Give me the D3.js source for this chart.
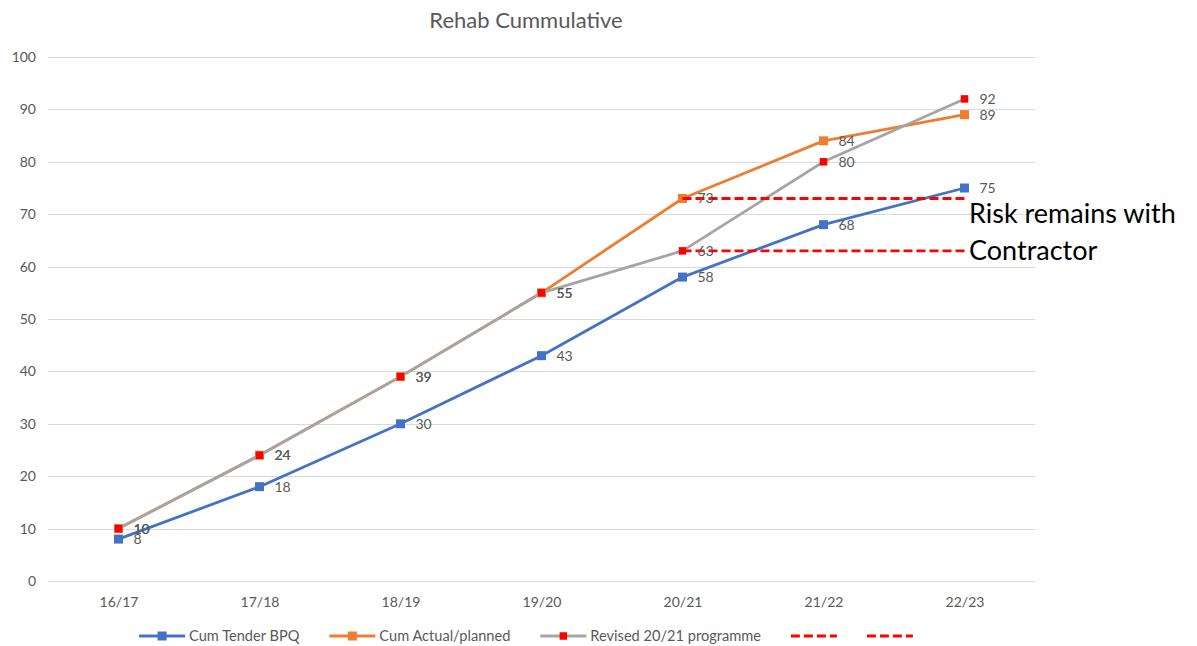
<!DOCTYPE html>
<html>
<head>
<meta charset="utf-8">
<script src="https://cdn.jsdelivr.net/npm/d3@7"></script>
<style>
  html, body { margin: 0; padding: 0; background: #fff; }
  svg { display: block; }
</style>
</head>
<body>
<svg id="chart" width="1197" height="646"></svg>
<script>
// ---- data ----
const categories = ["16/17", "17/18", "18/19", "19/20", "20/21", "21/22", "22/23"];
const cumTender = [8, 18, 30, 43, 58, 68, 75];
const cumActual = [10, 24, 39, 55, 73, 84, 89];
const revised2021 = [10, 24, 39, 55, 63, 80, 92];
const riskHigh = [null, null, null, null, 73, 73, 73];
const riskLow = [null, null, null, null, 63, 63, 63];
const yTicks = [0, 10, 20, 30, 40, 50, 60, 70, 80, 90, 100];
const titleText = "Rehab Cummulative";
const noteLines = ["Risk remains with", "Contractor"];
const legendNames = ["Cum Tender BPQ", "Cum Actual/planned", "Revised 20/21 programme", "", ""];

// ---- layout ----
const FONT = "Lato, 'Open Sans', sans-serif";
const plot = { left: 48, right: 1035, top: 57, bottom: 581 };
const svg = d3.select("#chart");

const x = d3.scalePoint().domain(categories).range([plot.left, plot.right]).padding(0.5);
const y = d3.scaleLinear().domain([0, 100]).range([plot.bottom, plot.top]);

const series = [
  { name: legendNames[0], values: cumTender, color: "#4472C4", marker: "#4472C4", msize: 9, width: 2.8, dash: null, labels: true },
  { name: legendNames[1], values: cumActual, color: "#ED7D31", marker: "#ED7D31", msize: 9, width: 2.8, dash: null, labels: true },
  { name: legendNames[2], values: revised2021, color: "#A5A5A5", marker: "#FF0000", msize: 7.5, width: 2.8, dash: null, labels: true },
  { name: legendNames[3], values: riskHigh, color: "#FF0000", marker: null, msize: 0, width: 2.8, dash: "9,4", labels: false },
  { name: legendNames[4], values: riskLow, color: "#FF0000", marker: null, msize: 0, width: 2.8, dash: "9,4", labels: false }
];

// gridlines
const yAxis = d3.axisLeft(y).tickValues(yTicks).tickSize(-(plot.right - plot.left)).tickPadding(12);
const gy = svg.append("g").attr("transform", `translate(${plot.left},0)`).call(yAxis);
gy.select(".domain").remove();
gy.selectAll(".tick line").attr("stroke", "#D9D9D9").attr("stroke-width", 1).attr("shape-rendering", "crispEdges");
gy.selectAll(".tick text").attr("fill", "#595959").style("font-family", FONT).style("font-size", "14px");

// x axis labels
const xAxis = d3.axisBottom(x).tickSize(0).tickPadding(16);
const gx = svg.append("g").attr("transform", `translate(0,${plot.bottom})`).call(xAxis);
gx.select(".domain").remove();
gx.selectAll(".tick text").attr("fill", "#595959").style("font-family", FONT).style("font-size", "14px");

// lines
const lineGen = d3.line()
  .defined(d => d.v !== null)
  .x(d => x(d.c))
  .y(d => y(d.v));

series.forEach(s => {
  const pts = categories.map((c, i) => ({ c, v: s.values[i] }));
  const g = svg.append("g");
  g.append("path")
    .datum(pts)
    .attr("d", lineGen)
    .attr("fill", "none")
    .attr("stroke", s.color)
    .attr("stroke-width", s.width)
    .attr("stroke-linejoin", "round")
    .attr("stroke-dasharray", s.dash);
  if (s.marker) {
    g.selectAll("rect")
      .data(pts.filter(d => d.v !== null))
      .enter().append("rect")
      .attr("x", d => x(d.c) - s.msize / 2)
      .attr("y", d => y(d.v) - s.msize / 2)
      .attr("width", s.msize)
      .attr("height", s.msize)
      .attr("fill", s.marker);
  }
  s.pts = pts;
});

// data labels
series.filter(s => s.labels).forEach(s => {
  svg.append("g").selectAll("text")
    .data(s.pts.filter(d => d.v !== null))
    .enter().append("text")
    .attr("x", d => x(d.c) + 15)
    .attr("y", d => y(d.v))
    .attr("dy", "0.35em")
    .attr("fill", "#595959")
    .style("font-family", FONT)
    .style("font-size", "14px")
    .text(d => d.v);
});

// title
svg.append("text")
  .attr("x", 526)
  .attr("y", 28)
  .attr("text-anchor", "middle")
  .attr("fill", "#595959")
  .style("font-family", FONT)
  .style("font-size", "22px")
  .text(titleText);

// note text
svg.append("g").selectAll("text")
  .data(noteLines)
  .enter().append("text")
  .attr("x", 969)
  .attr("y", (d, i) => 223 + i * 37)
  .attr("fill", "#000")
  .style("font-family", FONT)
  .style("font-size", "27px")
  .text(d => d);

// legend
const legend = svg.append("g");
const legendY = 636;
const lineLen = 46, textGap = 4, itemGap = 30;
const items = series.map(s => {
  const g = legend.append("g");
  g.append("line")
    .attr("x1", 0).attr("x2", lineLen)
    .attr("y1", 0).attr("y2", 0)
    .attr("stroke", s.color)
    .attr("stroke-width", s.width)
    .attr("stroke-dasharray", s.dash);
  if (s.marker) {
    g.append("rect")
      .attr("x", lineLen / 2 - s.msize / 2)
      .attr("y", -s.msize / 2)
      .attr("width", s.msize).attr("height", s.msize)
      .attr("fill", s.marker);
  }
  let w = lineLen;
  if (s.name) {
    const t = g.append("text")
      .attr("x", lineLen + textGap)
      .attr("y", 0)
      .attr("dy", "0.35em")
      .attr("fill", "#595959")
      .style("font-family", FONT)
      .style("font-size", "14.6px")
      .text(s.name);
    w = lineLen + textGap + t.node().getComputedTextLength();
  }
  return { g, w };
});
const totalW = d3.sum(items, d => d.w) + itemGap * (items.length - 1);
let cx = 526 - totalW / 2;
items.forEach(it => {
  it.g.attr("transform", `translate(${cx},${legendY})`);
  cx += it.w + itemGap;
});
</script>
</body>
</html>
